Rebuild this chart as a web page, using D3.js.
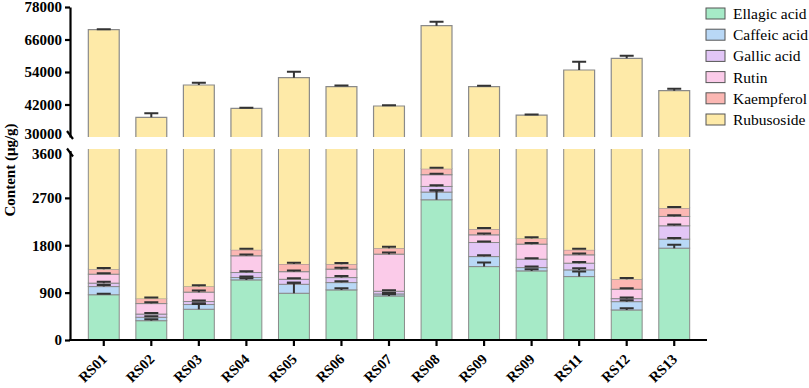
<!DOCTYPE html>
<html lang="en">
<head>
<meta charset="UTF-8">
<title>Stacked content chart</title>
<style>
    html, body { margin: 0; padding: 0; background: #fff; }
    svg { display: block; }
    svg text { font-family: "Liberation Serif", "Times New Roman", "DejaVu Serif", serif; }
</style>
</head>
<body>
<div class="box"></div>
<script src="https://d3js.org/d3.v7.min.js"></script>
<script>
    // sample labels (RS09 appears twice in the original figure)
    const labels = ['RS01', 'RS02', 'RS03', 'RS04', 'RS05', 'RS06', 'RS07', 'RS08', 'RS09', 'RS09', 'RS11', 'RS12', 'RS13'];

    // content values, µg/g
    const ellagic    = [860, 367, 584, 1142, 888, 952, 837, 2664, 1395, 1313, 1205, 571, 1745];
    const caffeic    = [155, 65, 90, 45, 170, 139, 38, 146, 190, 63, 127, 158, 171];
    const gallic     = [65, 60, 57, 95, 95, 95, 51, 107, 267, 159, 127, 57, 254];
    const rutin      = [170, 200, 178, 318, 145, 160, 705, 223, 146, 286, 159, 178, 177];
    const kaempferol = [95, 95, 108, 114, 146, 95, 114, 114, 109, 107, 95, 191, 159];
    const rubusoside = [68280, 36480, 48180, 38890, 50460, 47160, 39710, 67850, 46490, 36170, 53030, 57900, 44590];

    // error bars (upper SD)
    const ellagicErr    = [20, 25, 100, 30, 200, 30, 30, 180, 76, 30, 95, 30, 63];
    const caffeicErr    = [30, 20, 25, 20, 30, 25, 20, 30, 25, 20, 30, 25, 20];
    const gallicErr     = [25, 20, 20, 25, 20, 30, 20, 25, 20, 20, 25, 20, 25];
    const rutinErr      = [20, 25, 30, 25, 20, 25, 30, 20, 25, 20, 25, 20, 25];
    const kaempferolErr = [25, 20, 25, 20, 25, 20, 25, 20, 20, 25, 20, 25, 20];
    const rubusosideErr = [200, 1500, 800, 200, 2200, 400, 300, 1480, 300, 200, 3080, 960, 700];

    const topTicks = [30000, 42000, 54000, 66000, 78000];
    const bottomTicks = [0, 900, 1800, 2700, 3600];

    const seriesNames = ['Ellagic acid', 'Caffeic acid', 'Gallic acid', 'Rutin', 'Kaempferol', 'Rubusoside'];
    const colors = ['#a6eac7', '#b9d8f6', '#e2c6f6', '#fbcbe9', '#fbb7b3', '#feeaa8'];

    const seriesVals = [ellagic, caffeic, gallic, rutin, kaempferol, rubusoside];
    const seriesErr = [ellagicErr, caffeicErr, gallicErr, rutinErr, kaempferolErr, rubusosideErr];

    const FONT = '"Liberation Serif", "Times New Roman", "DejaVu Serif", serif';

    const width = 809, height = 388;
    const svg = d3.select('.box').append('svg').attr('width', width).attr('height', height)
        .attr('font-family', FONT);

    const axisX = 70;
    const baseY = 340;

    // x band scale on sample index
    const xScale = d3.scaleBand()
        .domain(d3.range(labels.length))
        .range([80, 698])
        .paddingInner(0.35)
        .paddingOuter(0.175);

    // broken y axis: two linear pieces
    const yBot = d3.scaleLinear().domain([0, 3600]).range([baseY, 150.5]);
    const yTop = d3.scaleLinear().domain([30000, 78000]).range([137, 7]);

    // build stacked rows
    const rows = labels.map((l, i) => {
        let acc = 0;
        const segs = seriesVals.map((s, k) => {
            const y0 = acc;
            acc += s[i];
            return { k, y0, y1: acc, err: seriesErr[k][i] };
        });
        return { i, segs };
    });

    const bw = xScale.bandwidth();
    const stroke = '#8a8a8a';

    const bars = svg.append('g').selectAll('g').data(rows).enter().append('g')
        .attr('transform', d => `translate(${xScale(d.i)},0)`);

    // lower segments (five minor compounds, fully below the break)
    bars.selectAll('rect.low').data(d => d.segs.slice(0, 5)).enter().append('rect')
        .attr('class', 'low')
        .attr('x', 0)
        .attr('width', bw)
        .attr('y', d => yBot(d.y1))
        .attr('height', d => yBot(d.y0) - yBot(d.y1))
        .attr('fill', d => colors[d.k])
        .attr('stroke', stroke)
        .attr('stroke-width', 1);

    // rubusoside: part below the break and part above it
    bars.each(function (d) {
        const g = d3.select(this);
        const seg = d.segs[5];
        const yb0 = yBot(seg.y0), yb1 = yBot(3600) - 1.5;
        g.append('rect')
            .attr('x', 0).attr('width', bw)
            .attr('y', yb1).attr('height', yb0 - yb1)
            .attr('fill', colors[5]);
        g.append('path')
            .attr('d', `M0,${yb1}V${yb0}M${bw},${yb1}V${yb0}`)
            .attr('stroke', stroke).attr('fill', 'none');

        const yt0 = yTop(30000), yt1 = yTop(seg.y1);
        g.append('rect')
            .attr('x', 0).attr('width', bw)
            .attr('y', yt1).attr('height', yt0 - yt1)
            .attr('fill', colors[5]);
        g.append('path')
            .attr('d', `M0,${yt0}V${yt1}H${bw}V${yt0}`)
            .attr('stroke', stroke).attr('stroke-width', 1.2).attr('fill', 'none');
    });

    // error bars
    const capW = 14;
    bars.each(function (d) {
        const g = d3.select(this);
        d.segs.forEach(s => {
            const sc = s.k === 5 ? yTop : yBot;
            const y1 = sc(s.y1), y2 = sc(s.y1 + s.err);
            g.append('path')
                .attr('d', `M${bw / 2},${y1}V${y2}M${bw / 2 - capW / 2},${y2}H${bw / 2 + capW / 2}`)
                .attr('stroke', '#333')
                .attr('stroke-width', 2)
                .attr('fill', 'none');
        });
    });

    // y axes
    const fmt = d3.format('d');
    const axTop = svg.append('g').attr('transform', `translate(${axisX},0)`)
        .call(d3.axisLeft(yTop).tickValues(topTicks).tickFormat(fmt).tickSize(5).tickSizeOuter(0).tickPadding(3));
    const axBot = svg.append('g').attr('transform', `translate(${axisX},0)`)
        .call(d3.axisLeft(yBot).tickValues(bottomTicks).tickFormat(fmt).tickSize(5).tickSizeOuter(0).tickPadding(3));

    [axTop, axBot].forEach(ax => {
        ax.attr('font-family', FONT);
        ax.select('.domain').attr('stroke', '#000').attr('stroke-width', 2.2);
        ax.selectAll('.tick line').attr('stroke', '#000').attr('stroke-width', 2.2);
        ax.selectAll('.tick text')
            .attr('font-weight', 'bold')
            .attr('font-size', 15)
            .attr('fill', '#000');
    });
    // no tick marks at the break, only the slashes
    axTop.selectAll('.tick').filter(d => d === 30000).select('line').remove();
    axBot.selectAll('.tick').filter(d => d === 3600).select('line').remove();
    axTop.selectAll('.tick').filter(d => d === 30000).select('text').attr('dy', '0.1em');
    axBot.selectAll('.tick').filter(d => d === 3600).select('text').attr('dy', '0.55em');

    // break slashes
    [yTop(30000) - 2, yBot(3600) + 2].forEach(y => {
        svg.append('line')
            .attr('x1', axisX - 3).attr('y1', y - 4)
            .attr('x2', axisX + 3).attr('y2', y + 4)
            .attr('stroke', '#000').attr('stroke-width', 2.2);
    });

    // x axis
    svg.append('line')
        .attr('x1', axisX - 1).attr('x2', 707)
        .attr('y1', baseY).attr('y2', baseY)
        .attr('stroke', '#000').attr('stroke-width', 2.2);

    const xt = svg.append('g').selectAll('g').data(labels).enter().append('g')
        .attr('transform', (d, i) => `translate(${xScale(i) + bw / 2},${baseY})`);
    xt.append('line').attr('y1', 0).attr('y2', 6).attr('stroke', '#000').attr('stroke-width', 2.2);
    xt.append('text')
        .text(d => d)
        .attr('text-anchor', 'end')
        .attr('transform', 'translate(4,20) rotate(-45)')
        .attr('font-weight', 'bold')
        .attr('font-size', 14.5)
        .attr('fill', '#000');

    // y title
    svg.append('text')
        .text('Content (μg/g)')
        .attr('transform', 'translate(15,170) rotate(-90)')
        .attr('text-anchor', 'middle')
        .attr('font-weight', 'bold')
        .attr('font-size', 15)
        .attr('fill', '#000');

    // legend
    const legend = svg.append('g').attr('transform', 'translate(706,13.5)');
    const li = legend.selectAll('g').data(seriesNames).enter().append('g')
        .attr('transform', (d, i) => `translate(0,${i * 21.2})`);
    li.append('rect')
        .attr('x', 0).attr('y', -5.5)
        .attr('width', 19).attr('height', 11)
        .attr('fill', (d, i) => colors[i])
        .attr('stroke', '#555').attr('stroke-width', 1);
    li.append('text')
        .text(d => d)
        .attr('x', 27).attr('y', 0)
        .attr('dy', '0.35em')
        .attr('font-size', 15.5)
        .attr('fill', '#000');
</script>
</body>
</html>
